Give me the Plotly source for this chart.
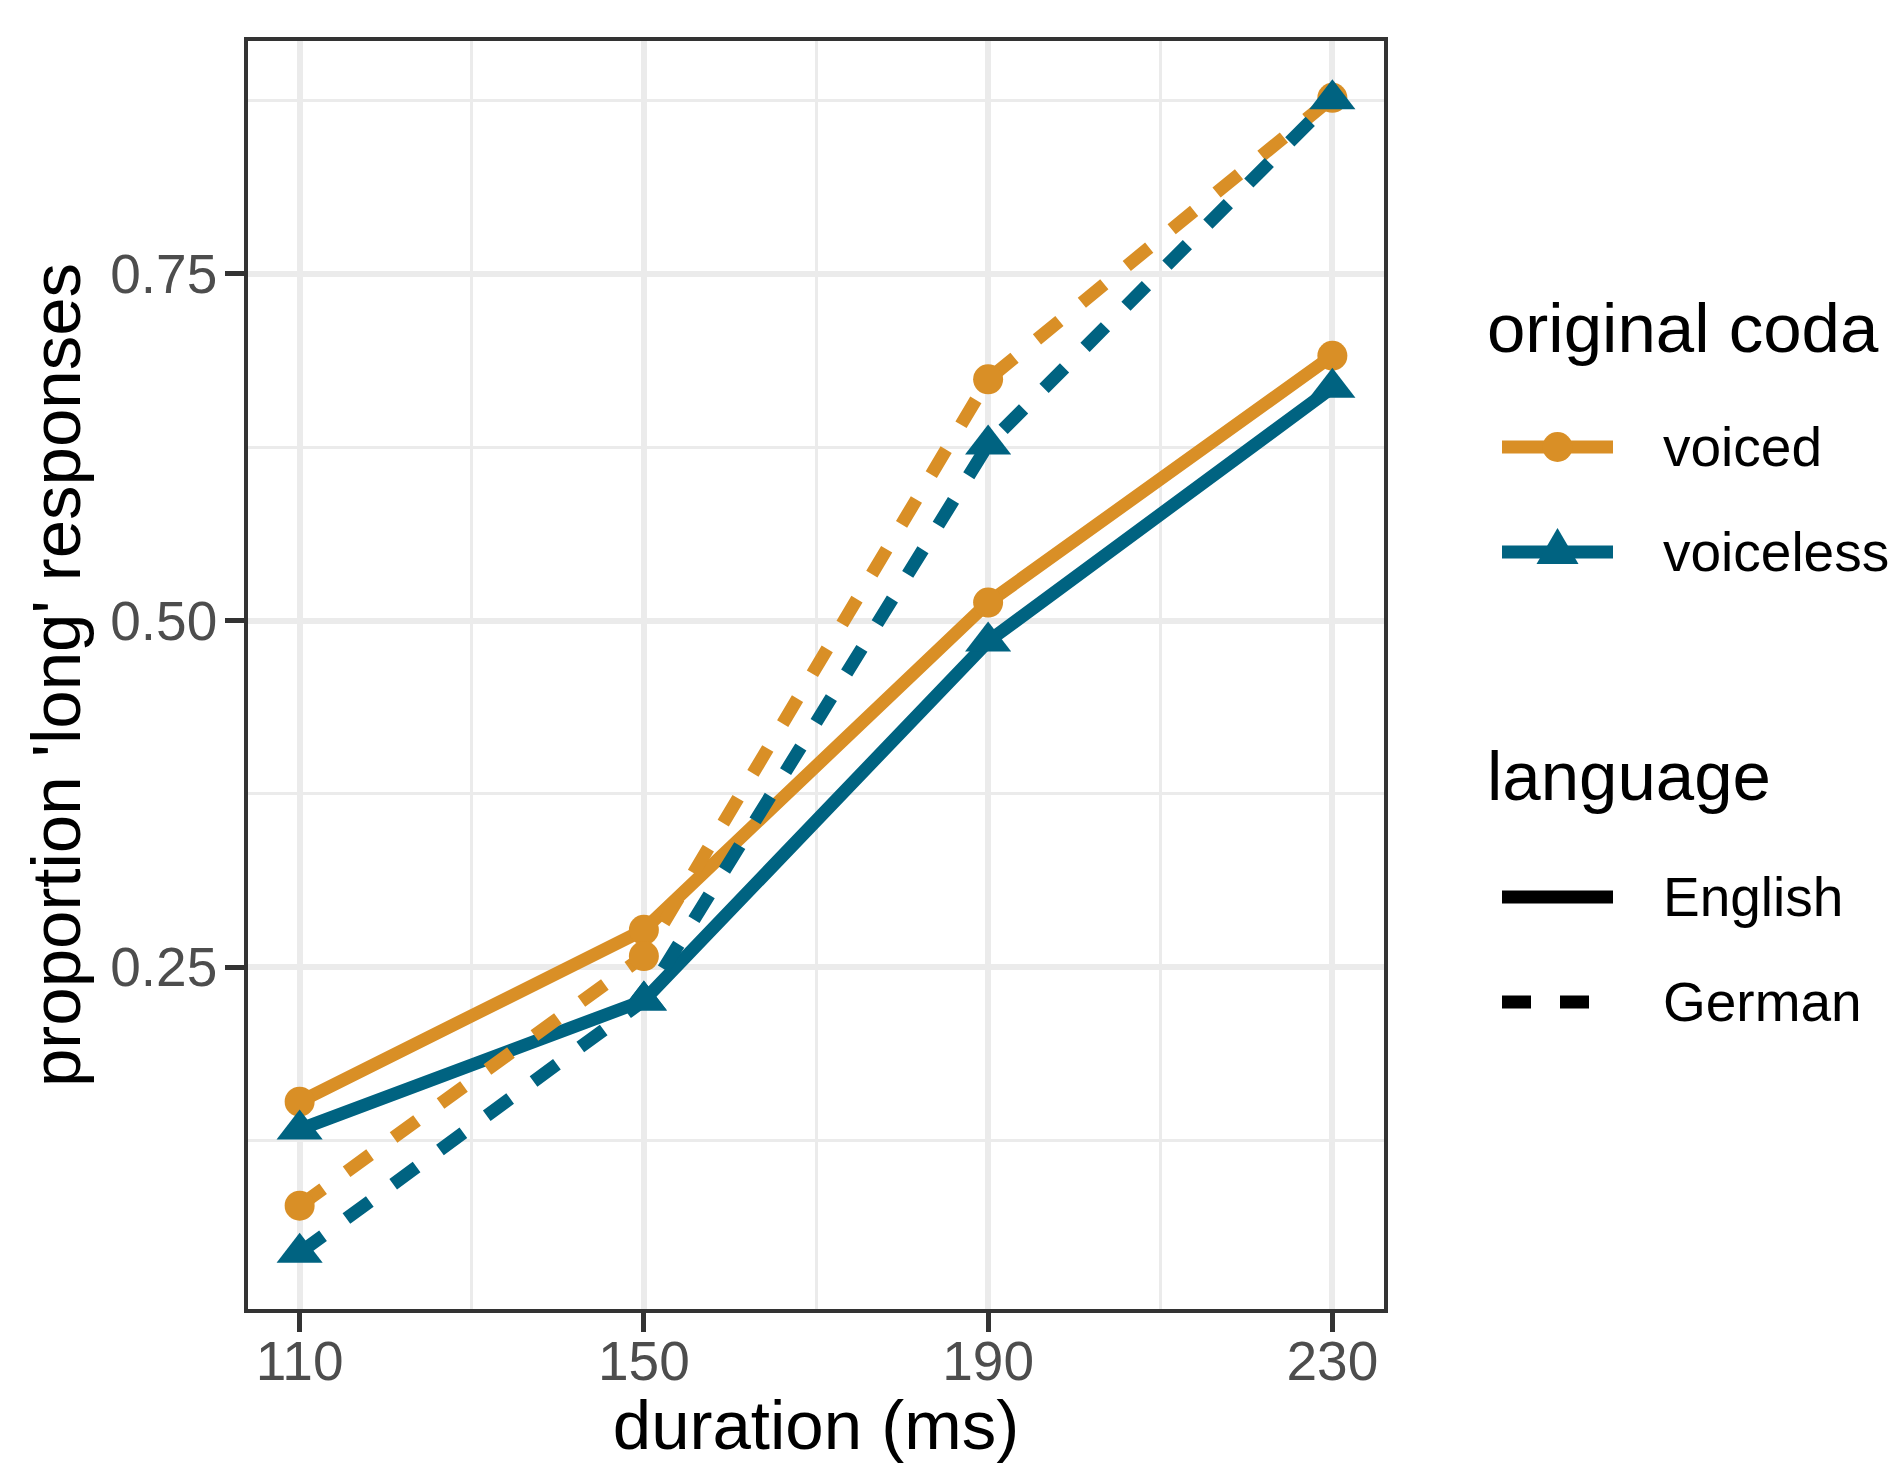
import plotly.graph_objects as go

# ---- data ----
duration = [110, 150, 190, 230]
voiced_english = [0.153, 0.277, 0.513, 0.691]
voiceless_english = [0.133, 0.226, 0.485, 0.668]
voiced_german = [0.078, 0.258, 0.674, 0.877]
voiceless_german = [0.044, 0.226, 0.627, 0.876]

coda_levels = ["voiced", "voiceless"]
language_levels = ["English", "German"]
x_ticks = [110, 150, 190, 230]
x_minor = [130, 170, 210]
y_ticks = [0.25, 0.50, 0.75]
y_tick_labels = ["0.25", "0.50", "0.75"]
y_minor = [0.125, 0.375, 0.625, 0.875]

# ---- style ----
W, H = 1890, 1464
L, R, T, B = 248, 1384, 41, 1309
ORANGE = "#D98F26"
BLUE = "#006381"
FONT = "Liberation Sans, Arial, Helvetica, sans-serif"
LW = 13
DASH = "29px,29px"
TITLE_SIZE = 69
TEXT_SIZE = 55

series = [
    ("voiced", "English", voiced_english, ORANGE, "solid", "circle", 30),
    ("voiceless", "English", voiceless_english, BLUE, "solid", "triangle-up", 40),
    ("voiced", "German", voiced_german, ORANGE, DASH, "circle", 30),
    ("voiceless", "German", voiceless_german, BLUE, DASH, "triangle-up", 40),
]

fig = go.Figure()
for coda, lang, vals, col, dash, sym, size in series:
    fig.add_trace(go.Scatter(x=duration, y=vals, mode="lines",
                             line=dict(color=col, width=LW, dash=dash),
                             name=f"{coda} {lang}", showlegend=False,
                             hoverinfo="skip"))
for coda, lang, vals, col, dash, sym, size in series:
    fig.add_trace(go.Scatter(x=duration, y=vals, mode="markers",
                             marker=dict(color=col, symbol=sym, size=size,
                                         line=dict(width=0)),
                             name=f"{coda} {lang}", showlegend=False))

axis_common = dict(
    ticks="outside", ticklen=19, tickwidth=4.5, tickcolor="#333333",
    showline=True, mirror=True, linecolor="#333333", linewidth=3.5,
    showgrid=True, gridcolor="#EBEBEB", gridwidth=6, zeroline=False,
    tickfont=dict(family=FONT, size=TEXT_SIZE, color="#4D4D4D"),
)

fig.update_xaxes(range=[104, 236], tickvals=x_ticks,
                 ticktext=[str(v) for v in x_ticks],
                 ticklabelstandoff=-18,
                 minor=dict(tickvals=x_minor, showgrid=True,
                            gridcolor="#EBEBEB", gridwidth=3, ticks=""),
                 title=dict(text="duration (ms)",
                            font=dict(family=FONT, size=TITLE_SIZE, color="black"),
                            standoff=44),
                 **axis_common)
fig.update_yaxes(range=[0.0035, 0.918], tickvals=y_ticks, ticktext=y_tick_labels,
                 ticklabelstandoff=-3,
                 minor=dict(tickvals=y_minor, showgrid=True,
                            gridcolor="#EBEBEB", gridwidth=3, ticks=""),
                 title=dict(text="proportion 'long' responses",
                            font=dict(family=FONT, size=TITLE_SIZE, color="black"),
                            standoff=8),
                 **axis_common)


def PX(x):
    return (x - L) / (R - L)


def PY(y):
    return (B - y) / (B - T)


shapes = []
annotations = []

# legend: original coda
annotations.append(dict(x=PX(1485), y=PY(328), xref="paper", yref="paper",
                        text="original coda", showarrow=False, xanchor="left",
                        yanchor="middle",
                        font=dict(family=FONT, size=TITLE_SIZE, color="black")))
key_x0, key_x1, key_c = 1502, 1613, 1557.5
for lab, col, sym, ky in [(coda_levels[0], ORANGE, "circle", 447),
                          (coda_levels[1], BLUE, "triangle", 552)]:
    shapes.append(dict(type="line", xref="paper", yref="paper",
                       x0=PX(key_x0), x1=PX(key_x1), y0=PY(ky), y1=PY(ky),
                       line=dict(color=col, width=LW)))
    if sym == "circle":
        r = 15
        shapes.append(dict(type="circle", xref="paper", yref="paper",
                           x0=PX(key_c - r), x1=PX(key_c + r),
                           y0=PY(ky + r), y1=PY(ky - r),
                           fillcolor=col, line=dict(width=0)))
    else:
        w, h = 42, 36
        cy = ky
        top = cy - 2 * h / 3
        bot = cy + h / 3
        path = (f"M {PX(key_c - w/2)} {PY(bot)} L {PX(key_c + w/2)} {PY(bot)} "
                f"L {PX(key_c)} {PY(top)} Z")
        shapes.append(dict(type="path", xref="paper", yref="paper", path=path,
                           fillcolor=col, line=dict(width=0)))
    annotations.append(dict(x=PX(1661), y=PY(ky), xref="paper", yref="paper",
                            text=lab, showarrow=False, xanchor="left",
                            yanchor="middle",
                            font=dict(family=FONT, size=TEXT_SIZE, color="black")))

# legend: language
annotations.append(dict(x=PX(1485), y=PY(777), xref="paper", yref="paper",
                        text="language", showarrow=False, xanchor="left",
                        yanchor="middle",
                        font=dict(family=FONT, size=TITLE_SIZE, color="black")))
for lab, dash, ky in [(language_levels[0], "solid", 897),
                      (language_levels[1], DASH, 1002)]:
    shapes.append(dict(type="line", xref="paper", yref="paper",
                       x0=PX(key_x0), x1=PX(key_x1), y0=PY(ky), y1=PY(ky),
                       line=dict(color="black", width=LW, dash=dash)))
    annotations.append(dict(x=PX(1661), y=PY(ky), xref="paper", yref="paper",
                            text=lab, showarrow=False, xanchor="left",
                            yanchor="middle",
                            font=dict(family=FONT, size=TEXT_SIZE, color="black")))

fig.update_layout(
    width=W, height=H,
    margin=dict(l=L, r=W - R, t=T, b=H - B, autoexpand=False),
    paper_bgcolor="white", plot_bgcolor="white",
    font=dict(family=FONT, color="black"),
    showlegend=False,
    shapes=shapes, annotations=annotations,
)

fig.write_html("out.html", config={"displayModeBar": False},
               post_script="document.body.style.margin='0';")
